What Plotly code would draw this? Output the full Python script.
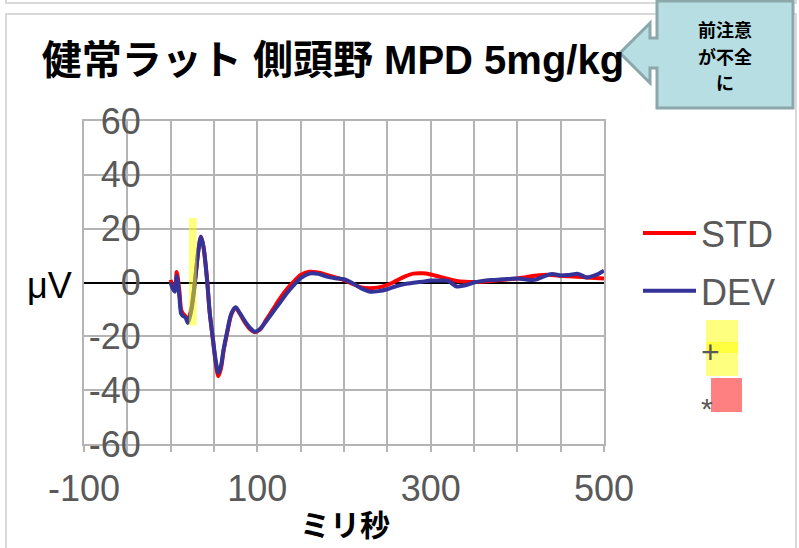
import plotly.graph_objects as go

# ---- data ----
time_ms = [0, 2, 5, 7, 10, 12, 14, 17, 20, 24, 28, 32, 35, 38, 42, 45, 49, 52, 55, 58,
           61, 65, 70, 75, 80, 86, 92, 97, 103, 110, 118, 126, 134, 142, 150, 160, 170,
           180, 190, 200, 210, 220, 230, 240, 250, 260, 270, 280, 290, 300, 310, 320,
           330, 340, 350, 360, 370, 380, 390, 400, 410, 420, 430, 440, 450, 460, 470,
           480, 490, 500]
std_uv = [1, -1, -1.5, 3.9, -3, -10, -11.5, -12.5, -14, -9.5, 0.5, 12, 17, 13, 1, -11,
          -22, -30, -34.8, -32, -25.5, -19, -12, -9.5, -11.7, -15, -17.5, -18.5, -17.5,
          -14, -10, -6, -2.5, 0.3, 2.8, 4, 3.7, 2.8, 1.9, 0.9, -0.5, -1.8, -2.1, -1.8,
          -0.9, 0.6, 2.2, 3.3, 3.4, 3.0, 2.2, 1.3, 0.6, 0.3, 0.2, 0.3, 0.6, 0.9, 1.2,
          1.5, 2.0, 2.5, 2.8, 2.8, 2.5, 2.3, 2.1, 1.9, 1.7, 1.5]
dev_uv = [0, -2, -3.4, 2.4, -5, -11.5, -12.4, -13, -15, -10, 0, 12, 17, 13, 1, -11,
          -21.5, -29, -33.5, -31, -25, -18.5, -11.5, -9.2, -11.5, -14.5, -17, -18.3,
          -17.3, -14.5, -11, -7.5, -4, -1, 1.6, 3.3, 3.2, 2.2, 1.6, 1.2, -0.3, -2.2,
          -3.4, -3.2, -2.5, -1.4, -0.6, -0.1, 0.3, 0.7, 0.7, 0.6, -1.5, -1, 0, 0.6,
          0.9, 1.1, 1.3, 1.5, 1.1, 1.0, 2.2, 3.2, 2.6, 2.8, 3.2, 1.9, 2.7, 4.4]
series_names = ["STD", "DEV"]
x_grid_vals = [-100, -50, 0, 50, 100, 150, 200, 250, 300, 350, 400, 450, 500]
x_tick_labels = ["-100", "", "", "", "100", "", "", "", "300", "", "", "", "500"]
y_tick_vals = [-60, -40, -20, 0, 20, 40, 60]
y_tick_labels = ["-60", "-40", "-20", "0", "20", "40", "60"]
highlight_ms = [21, 30]
highlight_uv = [-16, 24]

title_text = "健常ラット 側頭野 MPD 5mg/kg"
callout_lines = ["前注意", "が不全", "に"]

W, H = 799, 548
L, R, T, B = 84, 604, 121, 444


def px(x):
    return (x - L) / (R - L)


def py(y):
    return (B - y) / (B - T)


GRID = "#b4b4b4"
TICKC = "#595959"
LAT = "Liberation Sans, Arial, Noto Sans CJK JP"

fig = go.Figure()
fig.add_trace(go.Scatter(x=time_ms, y=std_uv, mode="lines", name=series_names[0],
                         legendgroup="a",
                         line=dict(color="#ff0000", width=4, shape="spline", smoothing=0.8)))
fig.add_trace(go.Scatter(x=time_ms, y=dev_uv, mode="lines", name=series_names[1],
                         legendgroup="b",
                         line=dict(color="#333399", width=4, shape="spline", smoothing=0.8)))

shapes = []
# outer frames
shapes.append(dict(type="rect", xref="paper", yref="paper", x0=px(6), x1=px(796),
                   y0=py(560), y1=py(14), line=dict(color="#d9d9d9", width=2),
                   fillcolor="rgba(0,0,0,0)", layer="below"))
shapes.append(dict(type="rect", xref="paper", yref="paper", x0=px(6), x1=px(796),
                   y0=py(3), y1=py(-20), line=dict(color="#d9d9d9", width=2),
                   fillcolor="rgba(0,0,0,0)", layer="below"))
# highlight in plot
shapes.append(dict(type="rect", xref="x", yref="y", x0=highlight_ms[0], x1=highlight_ms[1],
                   y0=highlight_uv[0], y1=highlight_uv[1], line=dict(width=0),
                   fillcolor="rgba(255,255,0,0.5)", layer="above"))
# legend-side markers
shapes.append(dict(type="rect", xref="paper", yref="paper", x0=px(706), x1=px(738),
                   y0=py(376), y1=py(320), line=dict(width=0),
                   fillcolor="rgba(255,255,0,0.5)", layer="above"))
shapes.append(dict(type="rect", xref="paper", yref="paper", x0=px(706), x1=px(738),
                   y0=py(353), y1=py(342), line=dict(width=0),
                   fillcolor="rgba(255,255,0,0.5)", layer="above"))
shapes.append(dict(type="rect", xref="paper", yref="paper", x0=px(711), x1=px(742),
                   y0=py(412), y1=py(378), line=dict(width=0),
                   fillcolor="#ff8080", layer="above"))
# callout
pts = [(657, 1), (793, 1), (793, 108), (657, 108), (657, 68), (650, 68), (650, 83),
       (620, 53), (650, 23), (650, 38), (657, 38)]
path = "M " + " L ".join(f"{px(a):.5f},{py(b):.5f}" for a, b in pts) + " Z"
shapes.append(dict(type="path", xref="paper", yref="paper", path=path,
                   fillcolor="#b7dee2", line=dict(color="#8ca7aa", width=3), layer="above"))

annotations = []
for txt, yc in zip(callout_lines, [29, 55.5, 82]):
    annotations.append(dict(text=txt, x=px(725), y=py(yc), xref="paper", yref="paper",
                            showarrow=False, xanchor="center", yanchor="middle",
                            font=dict(family="Noto Sans CJK JP", size=18, color="black",
                                      weight="bold")))
annotations += [
    dict(text="μV", x=px(49), y=py(285), xref="paper", yref="paper", showarrow=False,
         xanchor="center", yanchor="middle", font=dict(family=LAT, size=36, color="black")),
    dict(text="ミリ秒", x=px(345), y=py(523), xref="paper", yref="paper", showarrow=False,
         xanchor="center", yanchor="middle",
         font=dict(family="Noto Sans CJK JP", size=30, color="black", weight="bold")),
    dict(text="+", x=px(710), y=py(352), xref="paper", yref="paper", showarrow=False,
         xanchor="center", yanchor="middle", font=dict(family=LAT, size=32, color=TICKC)),
    dict(text="*", x=px(707), y=py(408), xref="paper", yref="paper", showarrow=False,
         xanchor="center", yanchor="middle", font=dict(family=LAT, size=30, color=TICKC)),
]

fig.update_layout(
    width=W, height=H, autosize=False,
    margin=dict(l=L, r=W - R, t=T, b=H - B, pad=0),
    paper_bgcolor="white", plot_bgcolor="white",
    title=dict(text=title_text, x=333 / W, xref="container", xanchor="center",
               y=1 - 60 / H, yref="container", yanchor="middle",
               font=dict(family=LAT, size=40, color="black", weight="bold")),
    showlegend=True,
    legend=dict(x=px(638), y=py(203), xanchor="left", yanchor="top",
                font=dict(family=LAT, size=36, color=TICKC), itemwidth=53,
                bgcolor="rgba(0,0,0,0)", tracegroupgap=8),
    shapes=shapes, annotations=annotations,
)
fig.update_xaxes(range=[-100, 500], tickmode="array", tickvals=x_grid_vals,
                 ticktext=x_tick_labels,
                 showgrid=True, gridcolor=GRID, gridwidth=2,
                 ticks="outside", ticklen=6, tickcolor=GRID, tickwidth=2,
                 showline=True, linecolor=GRID, linewidth=2, mirror=True,
                 zeroline=False, tickfont=dict(family=LAT, size=36, color=TICKC),
                 ticklabelstandoff=6, automargin=False, fixedrange=True)
fig.update_yaxes(range=[-60, 60], tickmode="array", tickvals=y_tick_vals,
                 ticktext=y_tick_labels, showgrid=True,
                 gridcolor=GRID, gridwidth=2, zeroline=True, zerolinecolor="black",
                 zerolinewidth=2, showline=True, linecolor=GRID, linewidth=2, mirror=True,
                 ticks="", tickfont=dict(family=LAT, size=36, color=TICKC),
                 ticklabelstandoff=-66, automargin=False, fixedrange=True)

fig.write_html("out.html", config={"displayModeBar": False},
               post_script="document.body.style.margin='0';"
                           "document.body.style.overflow='hidden';")
